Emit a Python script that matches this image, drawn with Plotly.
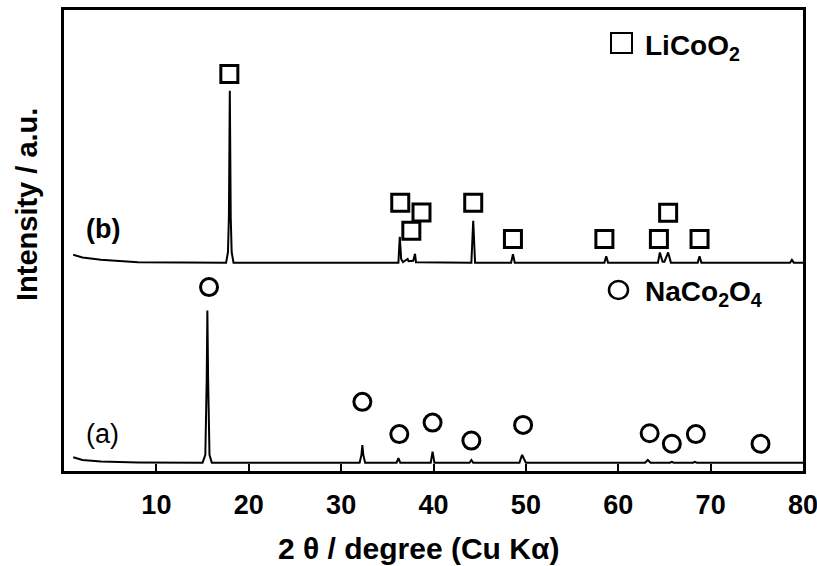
import plotly.graph_objects as go

# ---- data (2θ in degree, intensity in a.u.) ----
# pattern (a): NaCo2O4
a_x = [1.0, 2.0, 4.0, 8.0, 15.0, 15.3, 15.45, 15.52, 15.6, 15.75, 16.0,
       32.0, 32.2, 32.3, 32.4, 32.6, 36.0, 36.2, 36.4, 39.7, 39.9, 40.1,
       43.9, 44.1, 44.3, 49.3, 49.5, 49.6, 49.8, 50.0, 62.9, 63.2, 63.5,
       65.6, 65.8, 66.0, 68.1, 68.3, 68.5, 75.3, 75.5, 75.7, 80.0]
a_y = [3.0, 2.4, 2.05, 1.85, 1.8, 3.5, 20.0, 34.8, 20.0, 3.5, 1.8,
       1.8, 3.5, 5.6, 3.5, 1.8, 1.8, 2.8, 1.8, 1.8, 4.2, 1.8,
       1.8, 2.4, 1.8, 1.8, 3.0, 3.5, 2.6, 1.8, 1.8, 2.4, 1.8,
       1.8, 2.0, 1.8, 1.8, 2.0, 1.8, 1.8, 1.95, 1.8, 1.8]

# pattern (b): LiCoO2
b_x = [1.0, 2.0, 4.0, 8.0, 17.55, 17.75, 17.85, 17.95, 18.05, 18.15, 18.35,
       36.2, 36.35, 36.5, 36.7, 37.2, 37.3, 37.8, 38.0, 38.1, 44.1, 44.3,
       44.5, 48.4, 48.6, 48.8, 58.5, 58.7, 58.9, 64.3, 64.5, 64.8, 65.0,
       65.4, 65.7, 68.6, 68.8, 69.0, 78.6, 78.8, 79.0, 80.0]
b_y = [46.9, 46.3, 45.8, 45.3, 45.2, 47.5, 55.0, 82.5, 55.0, 47.5, 45.2,
       45.2, 50.8, 46.0, 45.3, 46.0, 45.5, 45.6, 47.1, 45.3, 45.2, 54.3,
       45.2, 45.2, 47.0, 45.2, 45.2, 46.6, 45.2, 45.2, 47.4, 45.4, 45.4,
       47.4, 45.2, 45.2, 46.6, 45.2, 45.2, 45.8, 45.2, 45.2]

# phase markers
circ_x = [15.7, 32.3, 36.3, 39.9, 44.1, 49.7, 63.4, 65.8, 68.4, 75.4]
circ_y = [39.9, 15.0, 8.0, 10.5, 6.6, 10.0, 8.2, 5.9, 8.0, 5.9]
sq_x = [17.9, 36.4, 38.7, 37.6, 44.3, 48.6, 58.5, 64.4, 65.4, 68.8]
sq_y = [86.1, 58.2, 56.1, 52.1, 58.2, 50.3, 50.3, 50.3, 56.0, 50.3]

x_ticks = [10, 20, 30, 40, 50, 60, 70, 80]
x_tick_labels = ["10", "20", "30", "40", "50", "60", "70", "80"]

FONT = "Liberation Sans, Arial, sans-serif"

fig = go.Figure()
fig.add_trace(go.Scatter(x=a_x, y=a_y, mode="lines",
                         line=dict(color="black", width=2), showlegend=False))
fig.add_trace(go.Scatter(x=b_x, y=b_y, mode="lines",
                         line=dict(color="black", width=2), showlegend=False))
fig.add_trace(go.Scatter(x=circ_x, y=circ_y, mode="markers",
                         marker=dict(symbol="circle-open", size=17,
                                     line=dict(color="black", width=3),
                                     color="black"),
                         showlegend=False))
fig.add_trace(go.Scatter(x=sq_x, y=sq_y, mode="markers",
                         marker=dict(symbol="square-open", size=17,
                                     line=dict(color="black", width=3),
                                     color="black"),
                         showlegend=False))

W, H = 817, 566
L, R, T, B = 64, 14, 10, 95
pw, ph = W - L - R, H - T - B

def px(xp):
    return (xp - L) / pw

def py(yp):
    return (H - B - yp) / ph

annotations = [
    dict(text="(a)", x=px(84), y=py(434), xref="paper", yref="paper",
         xanchor="left", yanchor="middle", showarrow=False,
         font=dict(family=FONT, size=27, color="black")),
    dict(text="<b>(b)</b>", x=px(84), y=py(229), xref="paper", yref="paper",
         xanchor="left", yanchor="middle", showarrow=False,
         font=dict(family=FONT, size=27, color="black")),
    dict(text="<b>LiCoO<sub>2</sub></b>", x=px(643), y=py(47), xref="paper", yref="paper",
         xanchor="left", yanchor="middle", showarrow=False,
         font=dict(family=FONT, size=28, color="black")),
    dict(text="<b>NaCo<sub>2</sub>O<sub>4</sub></b>", x=px(643), y=py(294), xref="paper", yref="paper",
         xanchor="left", yanchor="middle", showarrow=False,
         font=dict(family=FONT, size=28, color="black")),
    dict(text="<b>Intensity / a.u.</b>", x=px(27), y=py(205), xref="paper", yref="paper",
         xanchor="center", yanchor="middle", textangle=-90, showarrow=False,
         font=dict(family=FONT, size=29, color="black")),
    dict(text="<b>2 θ / degree (Cu Kα)</b>", x=px(418), y=py(548), xref="paper", yref="paper",
         xanchor="center", yanchor="middle", showarrow=False,
         font=dict(family=FONT, size=30, color="black")),
]

shapes = [
    dict(type="rect", xref="paper", yref="paper",
         x0=px(611), x1=px(632), y0=py(53), y1=py(33),
         line=dict(color="black", width=2)),
    dict(type="circle", xref="paper", yref="paper",
         x0=px(609), x1=px(628), y0=py(299), y1=py(281),
         line=dict(color="black", width=2.5)),
]

fig.update_layout(
    width=W, height=H,
    margin=dict(l=L, r=R, t=T, b=B, autoexpand=False),
    paper_bgcolor="white", plot_bgcolor="white",
    annotations=annotations, shapes=shapes,
    showlegend=False,
)
fig.update_xaxes(range=[0, 80], tickvals=x_ticks, ticktext=x_tick_labels,
                 ticks="inside", ticklen=7, tickwidth=1.5, tickcolor="black",
                 showline=True, linecolor="black", linewidth=3, mirror=True,
                 showgrid=False, zeroline=False, automargin=False,
                 ticklabeloverflow="allow",
                 tickfont=dict(family=FONT, size=27, color="black", weight="bold"),
                 ticklabelstandoff=8)
fig.update_yaxes(range=[0, 100], showticklabels=False, ticks="",
                 showline=True, linecolor="black", linewidth=3, mirror=True,
                 showgrid=False, zeroline=False, automargin=False)

fig.write_html("out.html", config={"displayModeBar": False},
               post_script="document.body.style.margin='0';document.body.style.overflow='hidden';")
